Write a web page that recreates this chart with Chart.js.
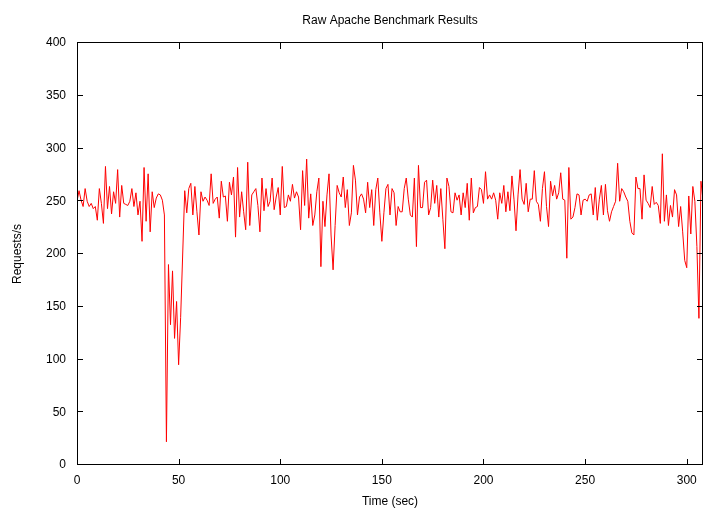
<!DOCTYPE html>
<html>
<head>
<meta charset="utf-8">
<title>Raw Apache Benchmark Results</title>
<script src="https://cdn.jsdelivr.net/npm/chart.js@4.4.1/dist/chart.umd.min.js"></script>
<style>
  html, body { margin: 0; padding: 0; background: #fff; }
  canvas { display: block; }
</style>
</head>
<body>
<canvas id="abChart" width="703" height="510"></canvas>
<script>
// requests per second, one sample per second (0..308 s)
const requests = [
  250, 260, 251, 245, 262, 250, 245, 248, 243, 245, 232, 262, 248, 229, 283, 243, 264, 238, 259, 248, 280, 235, 265, 248, 247,
  246, 250, 262, 245, 258, 237, 250, 212, 282, 231, 276, 221, 259, 244, 253, 257, 256, 251, 237, 22, 190, 133, 184, 120, 155, 95,
  140, 200, 260, 239, 262, 267, 237, 264, 240, 218, 259, 250, 254, 251, 246, 276, 248, 252, 254, 234, 269, 254, 255, 231, 268, 256, 273,
  216, 282, 235, 259, 240, 223, 287, 227, 256, 259, 262, 246, 221, 272, 241, 262, 245, 250, 272, 242, 254, 263, 237, 283, 244, 245,
  256, 250, 266, 253, 259, 254, 223, 279, 246, 290, 234, 257, 227, 237, 259, 272, 188, 250, 226, 256, 276, 218, 185, 227, 265, 258,
  254, 273, 244, 261, 227, 239, 284, 270, 237, 254, 257, 252, 239, 268, 244, 261, 227, 261, 272, 239, 212, 239, 262, 266, 237, 262,
  258, 227, 245, 240, 240, 262, 272, 252, 237, 235, 272, 207, 284, 244, 244, 268, 270, 237, 244, 270, 248, 265, 235, 262, 233, 205,
  272, 264, 240, 239, 258, 251, 256, 237, 258, 244, 267, 232, 272, 239, 244, 245, 263, 261, 248, 278, 252, 256, 252, 258, 251, 233,
  258, 248, 265, 240, 259, 241, 274, 252, 222, 256, 280, 252, 247, 267, 240, 252, 252, 279, 250, 247, 231, 262, 278, 245, 226, 269, 255,
  265, 252, 258, 277, 252, 251, 196, 282, 233, 235, 244, 257, 256, 237, 251, 252, 250, 256, 257, 237, 263, 232, 252, 265, 237, 266,
  241, 231, 240, 245, 250, 286, 250, 262, 259, 254, 250, 231, 220, 218, 273, 262, 262, 233, 275, 251, 248, 244, 264, 247, 249, 246,
  229, 295, 231, 256, 227, 246, 235, 261, 256, 226, 245, 221, 194, 187, 255, 219, 264, 250, 207, 139, 269, 251
];
const seconds = requests.map((_, i) => i);

const xTicks = [0, 50, 100, 150, 200, 250, 300];
const yTicks = [0, 50, 100, 150, 200, 250, 300, 350, 400];

const FONT = "'Liberation Sans', Arial, sans-serif";

// gnuplot style frame: box border, inward ticks on all four sides, title over the plot
const gnuplotFrame = {
  id: 'gnuplotFrame',
  afterDraw(chart) {
    const { ctx, chartArea: a, scales: { x, y } } = chart;
    const tl = 6;
    ctx.save();
    ctx.strokeStyle = '#000';
    ctx.lineWidth = 1;
    ctx.beginPath();
    yTicks.forEach(v => {
      const py = Math.round(y.getPixelForValue(v)) - 0.5;
      ctx.moveTo(a.left, py); ctx.lineTo(a.left + tl, py);
      ctx.moveTo(a.right, py); ctx.lineTo(a.right - tl, py);
    });
    xTicks.forEach(v => {
      const px = Math.round(x.getPixelForValue(v)) + 0.5;
      ctx.moveTo(px, a.bottom); ctx.lineTo(px, a.bottom - tl);
      ctx.moveTo(px, a.top); ctx.lineTo(px, a.top + tl);
    });
    ctx.stroke();
    ctx.strokeRect(Math.round(a.left) + 0.5, Math.round(a.top) - 0.5,
      Math.round(a.right - a.left) - 1, Math.round(a.bottom - a.top));

    ctx.fillStyle = '#000';
    ctx.font = '12px ' + FONT;
    ctx.textAlign = 'center';
    ctx.textBaseline = 'middle';
    ctx.fillText('Raw Apache Benchmark Results', (a.left + a.right) / 2, 21);
    ctx.restore();
  }
};

new Chart(document.getElementById('abChart'), {
  type: 'line',
  data: {
    datasets: [{
      data: requests.map((v, i) => ({ x: seconds[i], y: v })),
      borderColor: '#ff0000',
      borderWidth: 1,
      pointRadius: 0,
      tension: 0,
      fill: false
    }]
  },
  options: {
    responsive: false,
    animation: false,
    devicePixelRatio: 1,
    layout: { padding: { top: 43, right: -3, left: 0, bottom: 0 } },
    plugins: {
      legend: { display: false },
      title: { display: false },
      tooltip: { enabled: false }
    },
    scales: {
      x: {
        type: 'linear',
        min: 0,
        max: 308,
        grid: { display: false, drawTicks: false, tickLength: 0 },
        border: { display: false },
        ticks: {
          stepSize: 50,
          includeBounds: false,
          padding: 8,
          color: '#000',
          font: { family: FONT, size: 12 }
        },
        title: {
          display: true,
          text: 'Time (sec)',
          color: '#000',
          font: { family: FONT, size: 12 },
          padding: { top: 0, bottom: 1 }
        },
        afterFit: s => { s.height = 45; s.paddingLeft = 0; s.paddingRight = 0; }
      },
      y: {
        min: 0,
        max: 400,
        grid: { display: false, drawTicks: false, tickLength: 0 },
        border: { display: false },
        ticks: {
          stepSize: 50,
          padding: 11,
          color: '#000',
          font: { family: FONT, size: 12 }
        },
        title: {
          display: true,
          text: 'Requests/s',
          color: '#000',
          font: { family: FONT, size: 12 },
          padding: { top: 10, bottom: 0 }
        },
        afterFit: s => { s.width = 77; s.paddingTop = 0; s.paddingBottom = 0; }
      }
    }
  },
  plugins: [gnuplotFrame]
});
</script>
</body>
</html>
